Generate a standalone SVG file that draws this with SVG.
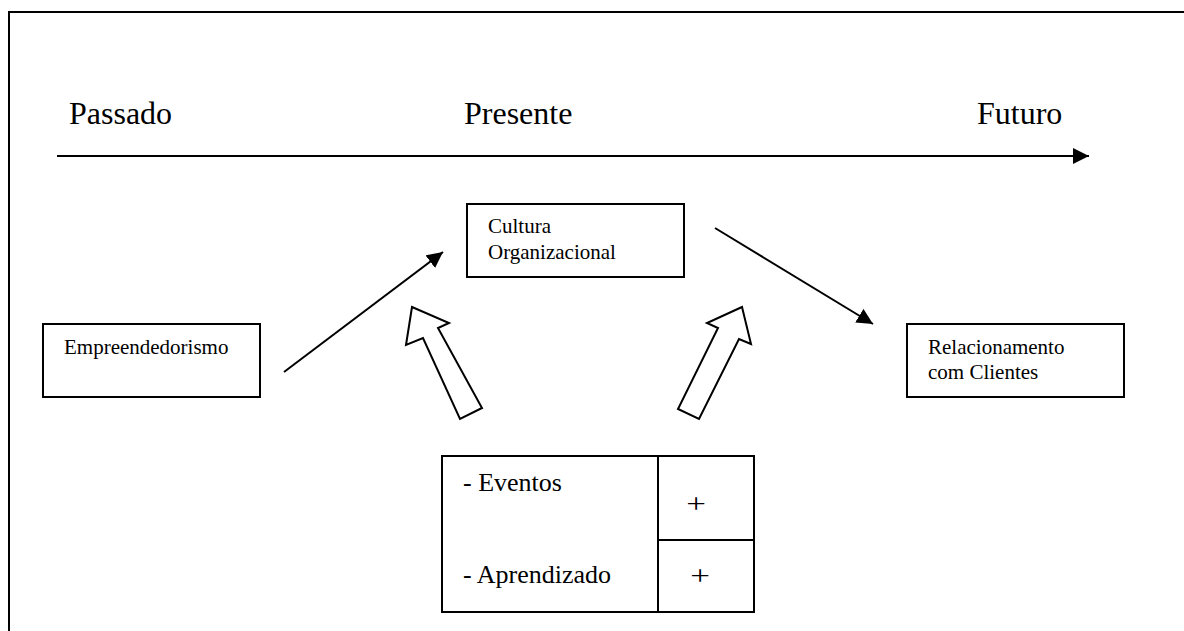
<svg xmlns="http://www.w3.org/2000/svg" width="1184" height="631" viewBox="0 0 1184 631">
<style>
text{font-family:"Liberation Serif","Times New Roman",serif;fill:#000}
.big{font-size:32px}
.sm{font-size:21px}
.md{font-size:26px}
.plus{font-size:28px;text-anchor:middle}
.box{fill:#fff;stroke:#000;stroke-width:2}
.ln{stroke:#000;stroke-width:2;fill:none}
.blk{fill:#fff;stroke:#000;stroke-width:2;stroke-linejoin:miter}
</style>
<defs>
<marker id="ahBig" viewBox="0 0 10 10" refX="10" refY="5" markerWidth="8" markerHeight="8" orient="auto">
<path d="M0,0 L10,5 L0,10 Z" fill="#000"/>
</marker>
</defs>
<rect width="1184" height="631" fill="#fff"/>
<path class="ln" d="M9,632 V12 H1186"/>
<g id="labels">
<text class="big" x="69" y="124">Passado</text>
<text class="big" x="464" y="124">Presente</text>
<text class="big" x="977" y="124">Futuro</text>
</g>
<g id="connectors">
<line class="ln" x1="57" y1="156" x2="1089" y2="156" marker-end="url(#ahBig)"/>
<line class="ln" x1="284" y1="372" x2="443" y2="252" marker-end="url(#ahBig)"/>
<line class="ln" x1="715" y1="228" x2="873" y2="324" marker-end="url(#ahBig)"/>
<polygon class="blk" points="412,307 449,323 438,328 482,408 460,419 423,338 406,345"/>
<polygon class="blk" points="742,307 751,344 739,339 699,419 678,409 718,328 707,323"/>
</g>
<g id="cultura">
<rect class="box" x="467" y="204" width="217" height="73"/>
<text class="sm" x="488" y="233">Cultura</text>
<text class="sm" x="488" y="259">Organizacional</text>
</g>
<g id="empreendedorismo">
<rect class="box" x="43" y="324" width="217" height="73"/>
<text class="sm" x="64" y="354">Empreendedorismo</text>
</g>
<g id="relacionamento">
<rect class="box" x="907" y="324" width="217" height="73"/>
<text class="sm" x="928" y="354">Relacionamento</text>
<text class="sm" x="928" y="379">com Clientes</text>
</g>
<g id="tabela">
<rect class="box" x="442" y="456" width="312" height="156"/>
<line class="ln" x1="658" y1="456" x2="658" y2="612"/>
<line class="ln" x1="658" y1="540" x2="754" y2="540"/>
<text class="md" x="463" y="491">- Eventos</text>
<text class="md" x="463" y="583">- Aprendizado</text>
<text class="plus" transform="translate(696,513) scale(1.25,1)">+</text>
<text class="plus" transform="translate(700,585) scale(1.25,1)">+</text>
</g>
</svg>
